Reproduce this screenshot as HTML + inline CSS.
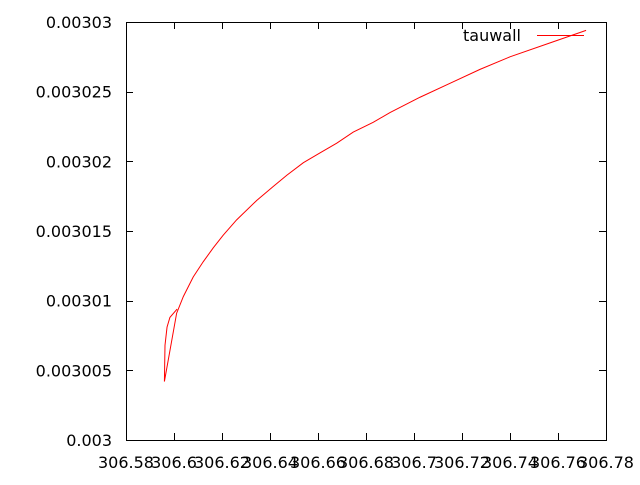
<!DOCTYPE html>
<html><head><meta charset="utf-8"><style>
body{margin:0;background:#fff}
svg text{font-family:"DejaVu Sans","Liberation Sans",sans-serif;font-size:16px;fill:#000}
</style></head><body>
<svg id="c" width="640" height="480"></svg>
<script>
const xTicks=[306.58,306.6,306.62,306.64,306.66,306.68,306.7,306.72,306.74,306.76,306.78];
const xTickLabels=["306.58","306.6","306.62","306.64","306.66","306.68","306.7","306.72","306.74","306.76","306.78"];
const yTicks=[0.003,0.003005,0.00301,0.003015,0.00302,0.003025,0.00303];
const yTickLabels=["0.003","0.003005","0.00301","0.003015","0.00302","0.003025","0.00303"];
const xVals=[306.6013,306.5983,306.5971,306.59625,306.5960,306.6011,306.6039,306.6080,306.6122,306.6164,306.6205,306.6261,306.6345,306.6414,306.6470,306.6539,306.6608,306.6678,306.6747,306.6830,306.69,306.7025,306.715,306.7275,306.74,306.7567,306.7717];
const yVals=[0.0030094,0.0030088,0.0030081,0.0030068,0.0030042,0.0030091,0.0030103,0.0030117,0.0030128,0.0030138,0.0030147,0.0030158,0.0030172,0.0030182,0.0030190,0.0030199,0.0030206,0.0030213,0.0030221,0.0030228,0.0030235,0.0030246,0.0030256,0.0030266,0.0030275,0.0030285,0.0030294];
const L=126,R=606,T=22,B=440;
const sx=v=>L+(v-306.58)/0.2*(R-L);
const sy=v=>B-(v-0.003)/0.00003*(B-T);
const svg=document.getElementById('c');
const NS='http://www.w3.org/2000/svg';
function mk(t,a){const e=document.createElementNS(NS,t);for(const k in a)e.setAttribute(k,a[k]);svg.appendChild(e);return e;}
let e=mk('rect',{x:L+.5,y:T+.5,width:R-L,height:B-T,fill:'none',stroke:'#000','stroke-width':1});


xTicks.forEach((v,i)=>{const x=Math.round(sx(v))+.5;
 let t=mk('line',{x1:x,x2:x,y1:B,y2:B-7,stroke:'#000'});
 
 
 let t2=mk('line',{x1:x,x2:x,y1:T,y2:T+7,stroke:'#000'});
 
 
 let s=mk('text',{x:sx(v),y:468,'text-anchor':'middle'});s.textContent=xTickLabels[i];
 
 
});
yTicks.forEach((v,i)=>{const y=Math.round(sy(v))+.5;
 let t=mk('line',{x1:L,x2:L+7,y1:y,y2:y,stroke:'#000'});
 
 
 let t2=mk('line',{x1:R,x2:R-7,y1:y,y2:y,stroke:'#000'});
 
 
 let s=mk('text',{x:112,y:sy(v)+6,'text-anchor':'end'});s.textContent=yTickLabels[i];
 
 
});
let p=mk('polyline',{points:xVals.map((v,i)=>sx(v)+','+sy(yVals[i])).join(' '),fill:'none',stroke:'#f00','stroke-width':1});


let lt=mk('text',{x:521,y:41,'text-anchor':'end'});lt.textContent='tauwall';


let ll=mk('line',{x1:537,x2:584,y1:35.5,y2:35.5,stroke:'#f00'});


</script>
</body></html>
